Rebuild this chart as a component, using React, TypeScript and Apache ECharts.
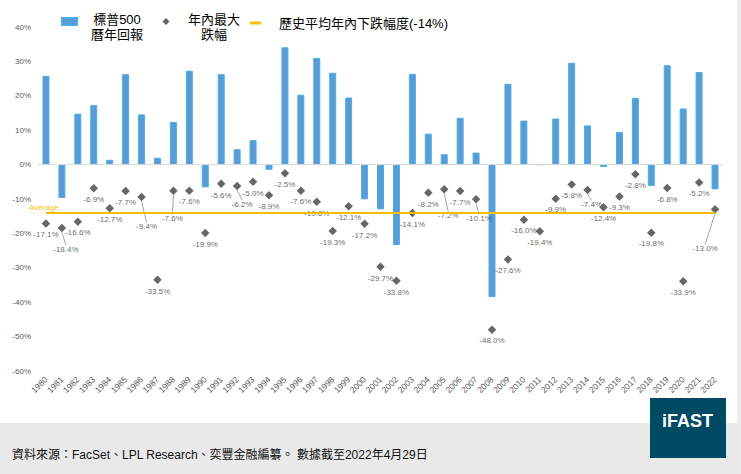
import React, { useEffect, useRef } from "react";
import * as echarts from "echarts";

const years = [
  "1980","1981","1982","1983","1984","1985","1986","1987","1988","1989",
  "1990","1991","1992","1993","1994","1995","1996","1997","1998","1999",
  "2000","2001","2002","2003","2004","2005","2006","2007","2008","2009",
  "2010","2011","2012","2013","2014","2015","2016","2017","2018","2019",
  "2020","2021","2022",
];

const annualReturns = [
  25.8, -9.7, 14.8, 17.3, 1.4, 26.3, 14.6, 2.0, 12.4, 27.3,
  -6.6, 26.3, 4.5, 7.1, -1.5, 34.1, 20.3, 31.0, 26.7, 19.5,
  -10.1, -13.0, -23.4, 26.4, 9.0, 3.0, 13.6, 3.5, -38.5, 23.5,
  12.8, 0.0, 13.4, 29.6, 11.4, -0.7, 9.5, 19.4, -6.2, 28.9,
  16.3, 26.9, -7.2,
];

const maxDrawdowns = [
  -17.1, -18.4, -16.6, -6.9, -12.7, -7.7, -9.4, -33.5, -7.6, -7.6,
  -19.9, -5.6, -6.2, -5.0, -8.9, -2.5, -7.6, -10.8, -19.3, -12.1,
  -17.2, -29.7, -33.8, -14.1, -8.2, -7.2, -7.7, -10.1, -48.0, -27.6,
  -16.0, -19.4, -9.9, -5.8, -7.4, -12.4, -9.3, -2.8, -19.8, -6.8,
  -33.9, -5.2, -13.0,
];

const averageDrawdown = -14;

const yTicks = { min: -60, max: 40, interval: 10 };

const seriesNames = {
  bar: "標普500曆年回報",
  dd: "年內最大跌幅",
  avg: "歷史平均年內下跌幅度(-14%)",
};

const footnote = "資料來源：FacSet、LPL Research、奕豐金融編纂。 數據截至2022年4月29日";

// label displacement (dx, dy) for labels drawn with a leader line
const labelShift: Record<string, [number, number]> = {
  "1981": [4, 10],
  "1986": [5, 18],
  "1988": [-1, 17],
  "1992": [5, 7],
  "2005": [4, 15],
  "2007": [3, 8],
  "2014": [4, 3],
  "2022": [-10, 28],
};

const FONT = '"Liberation Sans", Arial, "Noto Sans CJK TC", sans-serif';

export default function App() {
  const ref = useRef<HTMLDivElement>(null);

  useEffect(() => {
    if (!ref.current) return;
    const chart = echarts.init(ref.current, undefined, { renderer: "svg" });

    const legendRich = {
      c: { fontSize: 13, lineHeight: 15, color: "#000", align: "center", fontFamily: FONT },
    };

    const option: any = {
      animation: false,
      textStyle: { fontFamily: FONT },
      grid: { left: 38, right: 18, top: 27, bottom: 103, containLabel: false },
      legend: [
        {
          data: [{ name: seriesNames.bar, icon: "rect" }],
          left: 61,
          top: 13,
          padding: 0,
          itemWidth: 15,
          itemHeight: 7,
          selectedMode: false,
          formatter: () => "{c|標普500}\n{c|曆年回報}",
          textStyle: { padding: [11, 0, 0, 9], rich: legendRich },
        },
        {
          data: [{ name: seriesNames.dd, icon: "diamond" }],
          left: 162.5,
          top: 13,
          padding: 0,
          itemWidth: 7,
          itemHeight: 7,
          selectedMode: false,
          formatter: () => "{c|年內最大}\n{c|跌幅}",
          textStyle: { padding: [11, 0, 0, 13.5], rich: legendRich },
        },
        {
          data: [{ name: seriesNames.avg, icon: "rect" }],
          left: 250,
          top: 15.5,
          padding: 0,
          itemWidth: 11,
          itemHeight: 3,
          selectedMode: false,
          textStyle: { fontSize: 13, lineHeight: 15, color: "#000", padding: [0, 0, 0, 13] },
        },
      ],
      xAxis: {
        type: "category",
        data: years,
        axisLine: { show: false },
        axisTick: { show: false },
        axisLabel: { rotate: 45, interval: 0, fontSize: 8.5, color: "#595959", margin: 7 },
      },
      yAxis: {
        type: "value",
        min: yTicks.min,
        max: yTicks.max,
        interval: yTicks.interval,
        splitLine: { show: false },
        axisLine: { show: false },
        axisTick: { show: false },
        axisLabel: { formatter: "{value}%", fontSize: 8, color: "#595959", margin: 7 },
      },
      series: [
        {
          name: seriesNames.bar,
          type: "bar",
          data: annualReturns,
          barWidth: 7,
          itemStyle: { color: "#5b9bd5", borderColor: "#4aaee6", borderWidth: 1 },
          markLine: {
            silent: true,
            symbol: ["none", "none"],
            label: { show: false },
            lineStyle: { color: "#d9d9d9", width: 1, type: "solid" },
            data: [{ yAxis: 0 }],
          },
          z: 2,
        },
        {
          name: seriesNames.avg,
          type: "line",
          data: [],
          color: "#ffc000",
          itemStyle: { color: "#ffc000" },
          lineStyle: { color: "#ffc000", width: 2 },
          markLine: {
            silent: true,
            symbol: ["none", "none"],
            lineStyle: { color: "#f5bd00", width: 2, type: "solid" },
            label: {
              show: true,
              position: "insideStartTop",
              formatter: "Average",
              color: "#ffc000",
              fontSize: 8,
              offset: [-22, 4],
            },
            data: [[{ coord: [years[0], averageDrawdown] }, { coord: [years[years.length - 1], averageDrawdown] }]],
          },
          z: 3,
        },
        {
          name: seriesNames.dd,
          type: "scatter",
          symbol: "diamond",
          symbolSize: 8.5,
          itemStyle: { color: "#404040" },
          data: maxDrawdowns.map((v, i) => ({
            value: v,
            labelLine: labelShift[years[i]] ? { show: true } : { show: false },
          })),
          label: {
            show: true,
            position: "bottom",
            distance: 3,
            fontSize: 8,
            color: "#404040",
            formatter: (p: any) => `${Number(p.value).toFixed(1)}%`,
          },
          labelLine: { lineStyle: { color: "#a6a6a6", width: 1 } },
          labelLayout: (p: any) => {
            const s = labelShift[years[p.dataIndex]];
            return s ? { dx: s[0], dy: s[1] } : {};
          },
          z: 4,
        },
      ],
      graphic: [
        {
          type: "rect",
          left: 0,
          top: 423,
          shape: { width: 741, height: 51 },
          style: { fill: "#e9e9e9" },
          z: -10,
          silent: true,
        },
        {
          type: "rect",
          left: 737,
          top: 0,
          shape: { width: 4, height: 474 },
          style: { fill: "#ececec" },
          z: -10,
          silent: true,
        },
        {
          type: "text",
          left: 12,
          top: 449,
          style: { text: footnote, fontSize: 12, fill: "#111", fontFamily: FONT },
          silent: true,
        },
        {
          type: "rect",
          left: 650,
          top: 398,
          shape: { width: 76, height: 60 },
          style: { fill: "#004a64" },
          z: 10,
          silent: true,
        },
        {
          type: "text",
          left: 662,
          top: 412,
          style: { text: "iFAST", fontSize: 18, fontWeight: "bold", fill: "#fff", fontFamily: FONT },
          z: 11,
          silent: true,
        },
      ],
    };

    chart.setOption(option);
    return () => chart.dispose();
  }, []);

  return (
    <div
      ref={ref}
      style={{ position: "absolute", left: 0, top: 0, width: 741, height: 474, background: "#fff" }}
    />
  );
}
